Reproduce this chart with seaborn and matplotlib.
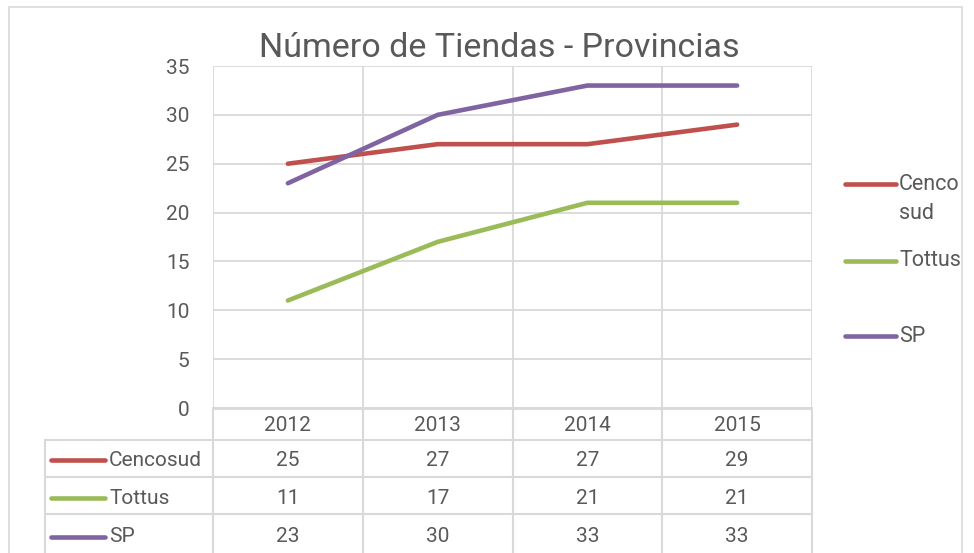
import pandas as pd
import matplotlib.pyplot as plt
import seaborn as sns
from matplotlib.lines import Line2D
from matplotlib.patches import Rectangle
from matplotlib.transforms import blended_transform_factory

# Data
years = ['2012', '2013', '2014', '2015']
cencosud = [25, 27, 27, 29]
tottus = [11, 17, 21, 21]
sp = [23, 30, 33, 33]
series_names = ['Cencosud', 'Tottus', 'SP']
legend_labels = ['Cenco\nsud', 'Tottus', 'SP']
colors = ['#C0504D', '#9BBB59', '#8064A2']
title = 'Número de Tiendas - Provincias'

df = pd.DataFrame({
    'year': years * 3,
    'value': cencosud + tottus + sp,
    'serie': [s for s in series_names for _ in years],
})

sns.set_style('white')
plt.rcParams['font.family'] = ['Roboto', 'DejaVu Sans']
text_col = '#595959'
grid_col = '#D9D9D9'
fs = 15

W, H = 974, 553
fig = plt.figure(figsize=(W / 100, H / 100), dpi=100)

def fx(px):
    return px / W

def fy(py):
    return 1 - py / H

# plot area in pixels: x 213..812, y 66..408
ax = fig.add_axes([fx(213), fy(408), fx(812) - fx(213), fy(66) - fy(408)])
sns.lineplot(data=df, x='year', y='value', hue='serie', palette=colors,
             linewidth=3.3, sort=False, legend=False, ax=ax,
             solid_capstyle='round')

ax.set_xlim(-0.5, 3.5)
ax.set_ylim(0, 35)
ax.set_yticks(range(0, 36, 5))
ax.set_xticks(range(len(years)))
ax.set_xticklabels(years)
ax.set_xticks([i - 0.5 for i in range(len(years) + 1)], minor=True)
ax.grid(True, which='major', axis='y', color=grid_col, linewidth=1.3)
ax.grid(True, which='minor', axis='x', color=grid_col, linewidth=1.3)
ax.set_axisbelow(True)
for s in ['top', 'right', 'left']:
    ax.spines[s].set_visible(False)
ax.spines['bottom'].set_color(grid_col)
ax.spines['bottom'].set_linewidth(2)
ax.spines['bottom'].set_capstyle('butt')
ax.tick_params(axis='both', which='both', length=0, labelsize=fs,
               colors=text_col)
ax.tick_params(axis='y', pad=17)
ax.tick_params(axis='x', pad=6)
ax.set_xlabel('')
ax.set_ylabel('')

fig.text(fx(499), fy(48), title, ha='center', va='center', fontsize=24.5,
         color=text_col)

# data table below the plot
tr = blended_transform_factory(ax.transData, fig.transFigure)
for i in range(len(years) + 1):
    fig.add_artist(Line2D([i - 0.5, i - 0.5], [fy(408), 0], transform=tr,
                          color=grid_col, linewidth=1.5))
row_lines = [440, 477, 514]
for py in row_lines:
    fig.add_artist(Line2D([fx(45), fx(812)], [fy(py), fy(py)],
                          transform=fig.transFigure, color=grid_col,
                          linewidth=1.5))
fig.add_artist(Line2D([fx(45), fx(45)], [fy(440), 0],
                      transform=fig.transFigure, color=grid_col, linewidth=1.5))

row_centers = [460, 498, 537]
values = [cencosud, tottus, sp]
for name, vals, col, py in zip(series_names, values, colors, row_centers):
    fig.add_artist(Line2D([fx(51), fx(105)], [fy(py), fy(py)],
                          transform=fig.transFigure, color=col, linewidth=3.3,
                          solid_capstyle='round'))
    fig.text(fx(109), fy(py), name, ha='left', va='center', fontsize=fs,
             color=text_col)
    for i, v in enumerate(vals):
        fig.text(i, fy(py), str(v), transform=tr, ha='center',
                 va='center', fontsize=fs, color=text_col)

# legend on the right
leg_y = [184, 261, 336]
leg_text_y = [199, 261, 336]
for lab, col, py, ty in zip(legend_labels, colors, leg_y, leg_text_y):
    fig.add_artist(Line2D([fx(845), fx(896)], [fy(py), fy(py)],
                          transform=fig.transFigure, color=col, linewidth=3.3,
                          solid_capstyle='round'))
    fig.text(fx(899), fy(ty), lab, ha='left', va='center', fontsize=15.5,
             color=text_col, linespacing=1.5)

# chart border
fig.add_artist(Rectangle((fx(9), fy(553) - 0.01), fx(962) - fx(9),
                         fy(7) - fy(553) + 0.01, transform=fig.transFigure,
                         fill=False, edgecolor=grid_col, linewidth=1.2))

fig.savefig('out.png', dpi=100, facecolor='white')
